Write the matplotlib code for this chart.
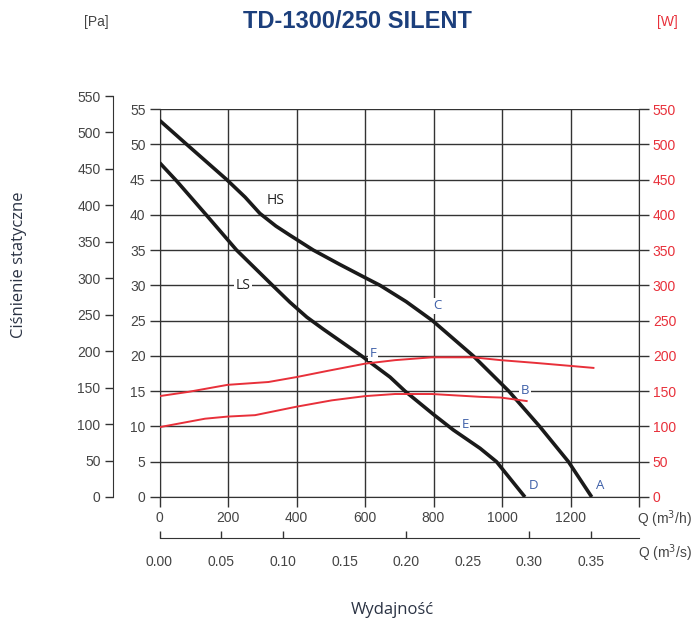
import matplotlib
matplotlib.use("Agg")
import matplotlib.pyplot as plt
from matplotlib import font_manager

names = {f.name for f in font_manager.fontManager.ttflist}
NARROW = "Liberation Sans Narrow" if "Liberation Sans Narrow" in names else "Liberation Sans"

# flow in m3/h, static pressure in Pa
q_hs = [0, 79, 196, 250, 293, 340, 381, 449, 525, 600, 644, 720, 797, 916, 1020, 1110, 1194, 1262]
p_hs = [534, 500, 450, 425, 402, 384, 371, 350, 330, 311, 300, 277, 250, 200, 150, 100, 50, 0]
q_ls = [0, 50, 138, 225, 330, 381, 430, 478, 590, 673, 717, 800, 858, 936, 984, 1067]
p_ls = [474, 448, 399, 350, 300, 276, 255, 238, 200, 170, 150, 117, 95, 69, 50, 0]

# power, W
q_w_hs = [0, 84, 199, 318, 400, 493, 600, 688, 795, 916, 996, 1100, 1196, 1267]
w_hs = [143, 149, 159, 163, 170, 179, 189, 194, 198, 198, 194, 190, 186, 183]
q_w_ls = [0, 133, 199, 279, 400, 503, 600, 688, 795, 936, 996, 1072]
w_ls = [99, 111, 114, 116, 128, 137, 143, 146, 146, 142, 141, 136]

# point labels (letter, Q, value)
pts = [("C", 811, 271), ("F", 624, 204), ("B", 1067, 151),
       ("E", 892, 103), ("D", 1091, 16), ("A", 1286, 17)]

q_ticks = [0, 200, 400, 600, 800, 1000, 1200]
qs_ticks = [0.00, 0.05, 0.10, 0.15, 0.20, 0.25, 0.30, 0.35]
pa_ticks = list(range(0, 551, 50))
inner_ticks = list(range(0, 56, 5))

W, H = 694, 626
GRAY = "#444444"
RED = "#e8303a"
BLUE = "#3d5fa8"
GRID = "#333333"
FS = 10

fig = plt.figure(figsize=(W / 100, H / 100), dpi=100)

x0, x1 = 159.5, 639
y0, y1 = 497, 109
ax = fig.add_axes([x0 / W, 1 - y0 / H, (x1 - x0) / W, (y0 - y1) / H])
ax.set_xlim(0, 1400)
ax.set_ylim(0, 550)
for s in ["top", "right"]:
    ax.spines[s].set_visible(False)
ax.spines["left"].set_color(GRID)
ax.spines["bottom"].set_color(GRID)
ax.set_xticks(q_ticks + [1400])
ax.set_xticklabels([str(v) for v in q_ticks] + [""])
ax.set_yticks([v * 10 for v in inner_ticks])
ax.set_yticklabels([str(v) for v in inner_ticks])
ax.tick_params(length=7, width=1, color=GRID, labelcolor=GRAY, labelsize=FS, pad=3)
for lab in ax.get_xticklabels() + ax.get_yticklabels():
    lab.set_family(NARROW)
ax.grid(True, color=GRID, linewidth=1)
ax.set_axisbelow(True)

ax.plot(q_hs, p_hs, color="#1a1a1a", lw=2.6, solid_capstyle="butt", zorder=3)
ax.plot(q_ls, p_ls, color="#1a1a1a", lw=2.6, solid_capstyle="butt", zorder=3)
ax.plot(q_w_hs, w_hs, color=RED, lw=1.4, zorder=3)
ax.plot(q_w_ls, w_ls, color=RED, lw=1.4, zorder=3)

box = dict(facecolor="white", edgecolor="none", pad=1)
ax.text(338, 421, "HS", ha="center", va="center", fontsize=10, color="#222222",
        family="Open Sans", bbox=box, zorder=4)
ax.text(244, 300, "LS", ha="center", va="center", fontsize=10, color="#222222",
        family="Open Sans", bbox=box, zorder=4)
for name, q, v in pts:
    ax.text(q, v, name, ha="center", va="center", fontsize=9.5, color=BLUE,
            family="Open Sans", bbox=box, zorder=4)

# right power axis
axr = ax.twinx()
axr.set_ylim(0, 550)
axr.set_yticks(pa_ticks)
for s in ["top", "left", "bottom"]:
    axr.spines[s].set_visible(False)
axr.spines["right"].set_color(GRID)
axr.tick_params(length=7, width=1, color=GRID, labelcolor=RED, labelsize=FS, pad=3)
for lab in axr.get_yticklabels():
    lab.set_family(NARROW)

# outer pressure axis in Pa
ya, yb = 497, 96
axp = fig.add_axes([113 / W, 1 - ya / H, 0.001, (ya - yb) / H])
axp.set_ylim(0, 550)
axp.set_yticks(pa_ticks)
axp.set_xticks([])
for s in ["top", "right", "bottom"]:
    axp.spines[s].set_visible(False)
axp.spines["left"].set_color(GRID)
axp.patch.set_alpha(0)
axp.tick_params(length=6, width=1, color=GRID, labelcolor=GRAY, labelsize=FS, pad=3)
for lab in axp.get_yticklabels():
    lab.set_family(NARROW)

# m3/s axis
ys = 538
axs = fig.add_axes([x0 / W, 1 - ys / H, (x1 - x0) / W, 0.0001])
axs.set_xlim(0, 1400 / 3600)
axs.set_xticks(qs_ticks)
axs.set_xticklabels(["%.2f" % v for v in qs_ticks])
axs.set_yticks([])
for s in ["top", "right", "left"]:
    axs.spines[s].set_visible(False)
axs.spines["bottom"].set_color(GRID)
axs.patch.set_alpha(0)
axs.tick_params(axis="x", direction="in", length=5, width=1, color=GRID,
                labelcolor=GRAY, labelsize=FS, pad=12)
for i, t in enumerate(axs.xaxis.get_major_ticks()):
    if qs_ticks[i] in (0.15, 0.25):
        t.tick1line.set_visible(False)
    t.label1.set_family(NARROW)

fig.text(692 / W, 1 - 519 / H, "Q (m$^3$/h)", ha="right", va="center",
         fontsize=FS, color=GRAY, family=NARROW)
fig.text(692 / W, 1 - 553 / H, "Q (m$^3$/s)", ha="right", va="center",
         fontsize=FS, color=GRAY, family=NARROW)

fig.text(357 / W, 1 - 22 / H, "TD-1300/250 SILENT", ha="center", va="center",
         fontsize=17, fontweight="bold", color="#1c3f7c", family=NARROW)
fig.text(96 / W, 1 - 22 / H, "[Pa]", ha="center", va="center",
         fontsize=FS, color=GRAY, family=NARROW)
fig.text(667 / W, 1 - 22 / H, "[W]", ha="center", va="center",
         fontsize=FS, color=RED, family=NARROW)

fig.text(19 / W, 1 - 265 / H, "Ciśnienie statyczne", rotation=90, ha="center",
         va="center", fontsize=12, color="#2b3344", family="Open Sans")
fig.text(392 / W, 1 - 610 / H, "Wydajność", ha="center", va="center",
         fontsize=12, color="#2b3344", family="Open Sans")

fig.savefig("out.png", dpi=100)
